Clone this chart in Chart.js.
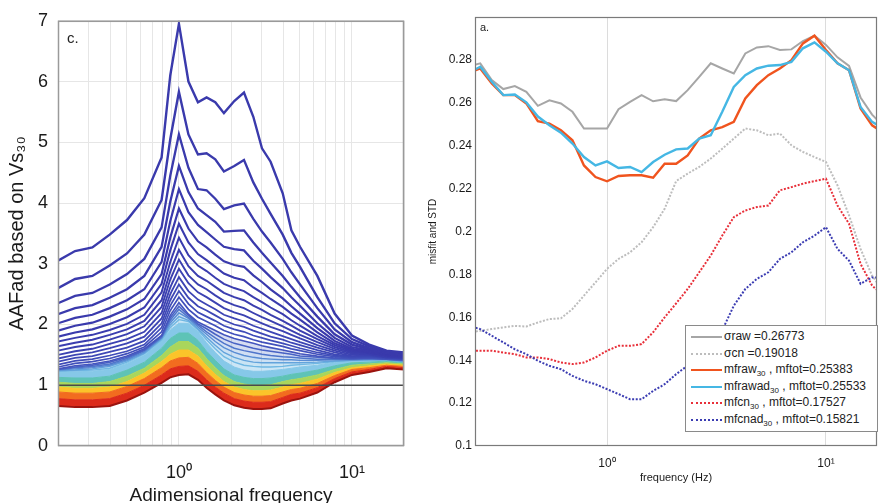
<!DOCTYPE html>
<html><head><meta charset="utf-8">
<script src="https://cdn.jsdelivr.net/npm/chart.js@4.4.1/dist/chart.umd.min.js"></script>
<style>
html,body{margin:0;padding:0;background:#fff;overflow:hidden;width:878px;height:503px;}
#wrapL{position:absolute;left:0;top:0;width:420px;height:503px;}
#wrapR{position:absolute;left:420px;top:0;width:458px;height:503px;}
#legend{position:absolute;left:685px;top:325px;width:193px;height:107px;border:1px solid #8a8a8a;background:#fff;font-family:'Liberation Sans',Arial,sans-serif;font-size:12px;color:#222;box-sizing:border-box;}
.row{position:absolute;left:0;height:16px;line-height:16px;white-space:nowrap;}
.smp{position:absolute;left:5px;top:8px;width:31px;height:0;}
.txt{position:absolute;left:38px;top:0;}
sub{font-size:8px;vertical-align:-3px;line-height:0;}
</style></head><body>
<div id="wrapL"><canvas id="cL" width="420" height="503"></canvas></div>
<div id="wrapR"><canvas id="cR" width="458" height="503"></canvas></div>
<div id="legend">
 <div class="row" style="top:2px"><span class="smp" style="border-top:2px solid #a6a6a6"></span><span class="txt">σraw =0.26773</span></div>
 <div class="row" style="top:19px"><span class="smp" style="border-top:2px dotted #bdbdbd"></span><span class="txt">σcn =0.19018</span></div>
 <div class="row" style="top:35px"><span class="smp" style="border-top:2px solid #f0541e"></span><span class="txt">mfraw<sub>30</sub> , mftot=0.25383</span></div>
 <div class="row" style="top:52px"><span class="smp" style="border-top:2px solid #45b7e4"></span><span class="txt">mfrawad<sub>30</sub> , mftot=0.25533</span></div>
 <div class="row" style="top:68px"><span class="smp" style="border-top:2px dotted #e8303a"></span><span class="txt">mfcn<sub>30</sub> , mftot=0.17527</span></div>
 <div class="row" style="top:85px"><span class="smp" style="border-top:2px dotted #3b3cb2"></span><span class="txt">mfcnad<sub>30</sub> , mftot=0.15821</span></div>
</div>
<script>
// ---------------- LEFT PANEL DATA (c.) ----------------
const adimFreq = [0.2,0.251,0.316,0.398,0.501,0.631,0.794,0.891,1.0,1.135,1.288,1.445,1.622,1.82,2.089,2.377,2.692,3.02,3.388,3.981,4.467,5.012,6.31,7.943,10,12.59,15.85,20];
const aaf01 = [3.05,3.21,3.27,3.48,3.72,4.08,4.75,6.10,6.95,6.00,5.66,5.74,5.66,5.48,5.68,5.82,5.42,4.90,4.68,4.16,3.55,3.28,2.80,2.18,1.82,1.67,1.57,1.54];
const aaf02 = [2.60,2.75,2.80,2.97,3.17,3.48,4.05,5.05,5.83,5.13,4.80,4.82,4.72,4.52,4.61,4.71,4.34,4.07,3.82,3.48,3.18,2.95,2.45,2.02,1.76,1.64,1.55,1.53];
const aaf03 = [2.35,2.47,2.52,2.66,2.83,3.08,3.60,4.45,5.13,4.58,4.23,4.21,4.07,3.90,3.96,3.99,3.74,3.53,3.35,3.08,2.86,2.66,2.27,1.92,1.71,1.61,1.53,1.51];
const aaf04 = [2.17,2.27,2.32,2.44,2.58,2.80,3.28,4.02,4.61,4.18,3.91,3.80,3.69,3.53,3.54,3.55,3.35,3.18,3.02,2.80,2.62,2.45,2.13,1.84,1.67,1.59,1.52,1.50];
const aaf05 = [2.02,2.11,2.16,2.27,2.40,2.58,3.03,3.70,4.23,3.85,3.64,3.52,3.40,3.28,3.24,3.22,3.05,2.92,2.78,2.60,2.45,2.31,2.02,1.78,1.63,1.57,1.51,1.49];
const aaf06 = [1.90,1.98,2.03,2.13,2.25,2.42,2.83,3.43,3.91,3.58,3.37,3.27,3.15,3.04,2.98,2.95,2.81,2.70,2.58,2.43,2.30,2.18,1.94,1.73,1.60,1.55,1.50,1.48];
const aaf07 = [1.80,1.87,1.92,2.01,2.12,2.28,2.67,3.22,3.66,3.35,3.16,3.06,2.95,2.84,2.77,2.73,2.61,2.52,2.42,2.29,2.18,2.08,1.87,1.69,1.58,1.54,1.49,1.47];
const aaf08 = [1.72,1.78,1.83,1.91,2.01,2.16,2.53,3.03,3.43,3.14,2.97,2.88,2.77,2.67,2.60,2.55,2.45,2.37,2.28,2.17,2.07,1.98,1.81,1.66,1.56,1.53,1.48,1.46];
const aaf09 = [1.64,1.70,1.75,1.83,1.92,2.06,2.40,2.87,3.23,2.96,2.80,2.72,2.62,2.52,2.45,2.40,2.31,2.24,2.16,2.06,1.98,1.90,1.76,1.63,1.54,1.52,1.47,1.46];
const aaf10 = [1.57,1.63,1.67,1.75,1.84,1.97,2.29,2.74,3.07,2.81,2.66,2.58,2.48,2.39,2.32,2.27,2.19,2.12,2.06,1.97,1.90,1.83,1.71,1.60,1.52,1.51,1.47,1.45];
const aaf11 = [1.50,1.56,1.60,1.68,1.76,1.88,2.19,2.61,2.92,2.68,2.53,2.45,2.36,2.27,2.20,2.15,2.08,2.02,1.96,1.89,1.83,1.77,1.66,1.57,1.50,1.50,1.46,1.45];
const aaf12 = [1.44,1.50,1.54,1.61,1.69,1.80,2.10,2.50,2.78,2.55,2.41,2.33,2.25,2.16,2.10,2.05,1.98,1.93,1.88,1.81,1.76,1.71,1.62,1.54,1.48,1.49,1.46,1.44];
const aaf13 = [1.39,1.45,1.48,1.55,1.62,1.73,2.02,2.40,2.66,2.44,2.30,2.23,2.15,2.07,2.00,1.96,1.90,1.85,1.80,1.75,1.70,1.66,1.58,1.51,1.47,1.48,1.45,1.44];
const aaf14 = [1.34,1.40,1.43,1.49,1.56,1.67,1.95,2.31,2.55,2.34,2.20,2.13,2.06,1.98,1.92,1.88,1.82,1.78,1.74,1.69,1.65,1.61,1.54,1.49,1.46,1.47,1.45,1.43];
const aaf15 = [1.30,1.36,1.39,1.44,1.52,1.63,1.88,2.23,2.45,2.25,2.12,2.05,1.98,1.90,1.84,1.80,1.75,1.71,1.68,1.64,1.60,1.57,1.51,1.47,1.45,1.46,1.44,1.43];
const aaf16 = [1.27,1.32,1.35,1.40,1.48,1.60,1.82,2.15,2.36,2.17,2.04,1.97,1.90,1.83,1.77,1.73,1.69,1.65,1.62,1.58,1.55,1.52,1.48,1.45,1.44,1.45,1.43,1.42];
const aaf17 = [1.26,1.30,1.33,1.38,1.46,1.58,1.81,2.11,2.30,2.15,2.01,1.93,1.84,1.76,1.69,1.65,1.61,1.58,1.56,1.53,1.51,1.48,1.46,1.44,1.43,1.44,1.43,1.41];
const aaf18 = [1.26,1.29,1.31,1.35,1.44,1.57,1.79,2.07,2.25,2.12,1.99,1.88,1.78,1.69,1.61,1.57,1.54,1.51,1.49,1.47,1.46,1.45,1.43,1.43,1.43,1.44,1.43,1.41];
const aaf19 = [1.25,1.27,1.29,1.33,1.42,1.55,1.78,2.03,2.19,2.10,1.96,1.84,1.72,1.62,1.54,1.49,1.46,1.44,1.43,1.42,1.42,1.41,1.41,1.42,1.42,1.43,1.43,1.40];
const aaf20 = [1.24,1.25,1.27,1.31,1.40,1.53,1.77,1.99,2.13,2.07,1.93,1.79,1.66,1.54,1.46,1.41,1.38,1.37,1.37,1.37,1.37,1.37,1.38,1.40,1.41,1.42,1.42,1.39];
const aaf21 = [1.24,1.24,1.25,1.28,1.38,1.52,1.75,1.95,2.08,2.05,1.91,1.75,1.60,1.47,1.38,1.33,1.31,1.30,1.30,1.31,1.33,1.34,1.36,1.39,1.41,1.42,1.42,1.39];
// dense colored band (lowest curves) boundaries
const bandBottom    = [0.66,0.64,0.64,0.66,0.75,0.88,1.04,1.13,1.17,1.18,1.09,0.96,0.85,0.75,0.67,0.63,0.61,0.61,0.62,0.70,0.75,0.78,0.88,1.05,1.17,1.22,1.28,1.26];
const bandRedTop    = [0.78,0.76,0.76,0.78,0.87,1.00,1.17,1.27,1.31,1.32,1.23,1.09,0.97,0.87,0.78,0.74,0.72,0.72,0.73,0.80,0.85,0.87,0.96,1.11,1.22,1.26,1.31,1.29];
const bandOrangeTop = [0.89,0.87,0.87,0.89,0.98,1.11,1.29,1.40,1.45,1.46,1.36,1.21,1.08,0.97,0.88,0.84,0.82,0.82,0.83,0.89,0.93,0.95,1.03,1.16,1.26,1.29,1.33,1.31];
const bandYellowTop = [0.97,0.95,0.95,0.97,1.06,1.20,1.39,1.51,1.58,1.58,1.48,1.32,1.18,1.06,0.97,0.93,0.91,0.91,0.92,0.97,1.01,1.03,1.10,1.21,1.29,1.32,1.35,1.33];
const bandGreenTop  = [1.05,1.03,1.03,1.06,1.15,1.28,1.49,1.63,1.72,1.72,1.61,1.44,1.29,1.16,1.06,1.02,1.00,1.00,1.01,1.06,1.09,1.11,1.17,1.26,1.33,1.35,1.37,1.35];
const bandTealTop   = [1.13,1.12,1.12,1.15,1.25,1.38,1.61,1.77,1.86,1.86,1.74,1.56,1.41,1.27,1.17,1.13,1.11,1.11,1.12,1.15,1.18,1.20,1.25,1.32,1.37,1.38,1.40,1.37];
const bandCyanTop   = [1.23,1.22,1.23,1.26,1.36,1.50,1.74,1.91,2.02,2.02,1.88,1.70,1.54,1.40,1.30,1.25,1.23,1.23,1.24,1.26,1.28,1.30,1.33,1.38,1.40,1.41,1.42,1.38];
const unityFreq  = [0.2, 20];
const unityLevel = [1, 1];
const adimGridTicks = [0.2,0.3,0.4,0.5,0.6,0.7,0.8,0.9,1,2,3,4,5,6,7,8,9,10,20];

// ---------------- RIGHT PANEL DATA (a.) ----------------
const freqHz = [0.2336,0.2637,0.2976,0.336,0.3793,0.4281,0.4833,0.5456,0.6158,0.6952,0.7848,0.8859,1,1.1288,1.2743,1.4384,1.6238,1.833,2.0691,2.3357,2.6367,2.9764,3.3598,3.7927,4.2813,4.8329,5.4556,6.1585,6.9519,7.8476,8.8587,10,11.288,12.743,14.384,16.238,18.33];
const sigmaRaw = [0.277,0.2784,0.2706,0.2664,0.2678,0.2651,0.2586,0.2612,0.2597,0.2558,0.248,0.248,0.248,0.257,0.2604,0.2636,0.2607,0.2617,0.2608,0.2659,0.2721,0.2784,0.276,0.2737,0.283,0.2858,0.2864,0.2846,0.2849,0.2888,0.2913,0.287,0.2812,0.2772,0.2625,0.2545,0.249];
const sigmaCn  = [0.153,0.1537,0.1545,0.1553,0.156,0.1557,0.1576,0.1592,0.1595,0.1639,0.1701,0.1763,0.1826,0.1872,0.1903,0.195,0.202,0.2106,0.2235,0.227,0.2301,0.234,0.2386,0.2433,0.248,0.2472,0.2449,0.2457,0.2402,0.2371,0.2347,0.2324,0.2215,0.2075,0.1919,0.1794,0.172];
const mfRaw30  = [0.274,0.276,0.269,0.2636,0.2636,0.2597,0.2514,0.2503,0.2472,0.2425,0.2308,0.2254,0.2234,0.2259,0.2262,0.2262,0.2251,0.2316,0.2316,0.2355,0.2433,0.2472,0.2487,0.2511,0.262,0.2682,0.2729,0.276,0.2799,0.2877,0.2913,0.2846,0.2784,0.2752,0.2573,0.2495,0.246];
const mfRawAd30= [0.274,0.2768,0.2698,0.2636,0.2639,0.2602,0.2536,0.2495,0.2461,0.241,0.2347,0.2308,0.2327,0.2296,0.2301,0.2277,0.2324,0.2358,0.2383,0.2387,0.2433,0.2449,0.2558,0.2674,0.2729,0.276,0.2773,0.2776,0.2791,0.2854,0.2882,0.2838,0.2784,0.2752,0.2581,0.2511,0.248];
const mfCn30   = [0.1444,0.1444,0.1444,0.1436,0.1428,0.1413,0.1413,0.1405,0.1389,0.1382,0.1389,0.1413,0.1444,0.1467,0.1467,0.1475,0.153,0.16,0.1665,0.1732,0.181,0.1888,0.1981,0.2067,0.2098,0.2114,0.2121,0.2192,0.2207,0.2223,0.2235,0.2246,0.2121,0.2036,0.1849,0.1748,0.170];
const mfCnAd30 = [0.156,0.1545,0.1514,0.1483,0.1451,0.1428,0.1397,0.1374,0.1358,0.1327,0.1304,0.1288,0.1265,0.1242,0.1218,0.1218,0.1257,0.1288,0.1335,0.1375,0.142,0.1475,0.154,0.1654,0.1732,0.1779,0.181,0.1872,0.1903,0.195,0.1981,0.202,0.1919,0.1864,0.1756,0.1786,0.1786];
const misfitTicks = [0.1,0.12,0.14,0.16,0.18,0.2,0.22,0.24,0.26,0.28,0.3];
const freqGridTicks = [1, 10];

// ---------------- helpers ----------------
const FONT = "'Liberation Sans', Arial, Helvetica, sans-serif";
Chart.defaults.font.family = FONT;
Chart.defaults.color = '#1a1a1a';
const toXY = (xs, ys) => xs.map((x, i) => ({x: x, y: ys[i]}));
const expLabel = v => (Math.abs(v - 1) < 1e-9 ? '10\u2070' : (Math.abs(v - 10) < 1e-9 ? '10\u00b9' : ''));

const framePlugin = {
  id: 'frame',
  afterDatasetsDraw(chart, args, o) {
    const {ctx, chartArea: a} = chart;
    ctx.save();
    ctx.strokeStyle = o.color; ctx.lineWidth = o.width;
    ctx.strokeRect(a.left + 0.5, a.top + 0.5, a.right - a.left - 1, a.bottom - a.top - 1);
    ctx.fillStyle = '#222'; ctx.font = o.font; ctx.textBaseline = 'alphabetic'; ctx.textAlign = 'left';
    ctx.fillText(o.tag, a.left + o.dx, a.top + o.dy);
    ctx.restore();
  }
};

// ---------------- LEFT CHART ----------------
const curves = [aaf01,aaf02,aaf03,aaf04,aaf05,aaf06,aaf07,aaf08,aaf09,aaf10,aaf11,aaf12,aaf13,aaf14,aaf15,aaf16,aaf17,aaf18,aaf19,aaf20,aaf21];
const curveColors = ['#3a3aac','#3a3aac','#3a3aac','#3a3aac','#3a3aac','#3a3aac','#3a3bad','#3a3cae','#3b3eaf','#3b40b0','#3c42b2','#3d45b4','#3e48b6','#3f4cb8','#4150bb','#4455be','#4862c4','#4f75cb','#588cd4','#63a3dc','#70b8e3'];
const curveShades = [null,null,null,null,null,null,null,null,null,null,null,null,null,null,null,null,'rgba(72,98,196,0.22)','rgba(79,117,203,0.25)','rgba(88,140,212,0.28)','rgba(99,163,220,0.32)','rgba(112,184,227,0.38)'];
const curveWidths = [2.4,2.4,2.3,2.3,2.2,2.2,2.1,2.0,2.0,1.9,1.9,1.8,1.8,1.7,1.7,1.6,1.5,1.5,1.4,1.4,1.4];
const bandArrays = [bandBottom, bandRedTop, bandOrangeTop, bandYellowTop, bandGreenTop, bandTealTop, bandCyanTop];
const bandColors = ['#a3160f','#dc2b1b','#f26c1f','#fbc42a','#a9d65c','#5ec3b6','#86c8e8'];

const dsL = [];
dsL.push({data: toXY(unityFreq, unityLevel), borderColor: '#4a4a4a', borderWidth: 1.5, fill: false});
const curveStart = dsL.length;
curves.forEach((c, i) => dsL.push({
  data: toXY(adimFreq, c), borderColor: curveColors[i], borderWidth: curveWidths[i],
  backgroundColor: curveShades[i] || 'transparent',
  fill: curveShades[i] ? curveStart + i - 1 : false
}));
const bandStart = dsL.length;
bandArrays.forEach((b, i) => {
  dsL.push({
    data: toXY(adimFreq, b),
    borderColor: i === 0 ? '#9a130e' : bandColors[i],
    borderWidth: i === 0 ? 2 : 1,
    backgroundColor: bandColors[i],
    fill: i === 0 ? false : bandStart + i - 1
  });
});
// light shading between the last drawn line and the cyan band top
dsL.push({data: toXY(adimFreq, bandCyanTop), borderColor: 'transparent', borderWidth: 0,
  backgroundColor: 'rgba(140,200,236,0.45)', fill: curveStart + curves.length - 1});

new Chart(document.getElementById('cL'), {
  type: 'line',
  data: {datasets: dsL},
  options: {
    responsive: false, animation: false, devicePixelRatio: 1,
    layout: {padding: {left: 0, right: 15, top: 16, bottom: 0}},
    elements: {point: {radius: 0}, line: {tension: 0}},
    plugins: {legend: {display: false}, tooltip: {enabled: false},
      frame: {color: '#9a9a9a', width: 1.5, tag: 'c.', font: '15px ' + FONT, dx: 9, dy: 22}},
    scales: {
      x: {type: 'logarithmic', min: 0.2, max: 20,
        afterBuildTicks: s => { s.ticks = adimGridTicks.map(v => ({value: v})); },
        afterFit: s => { s.height = 57; },
        grid: {color: '#e6e6e6', lineWidth: 1, drawTicks: false},
        border: {display: false},
        ticks: {autoSkip: false, maxRotation: 0, minRotation: 0, padding: 16, font: {size: 18}, color: '#1a1a1a', callback: v => expLabel(v)},
        title: {display: true, text: 'Adimensional frequency', font: {size: 19}, color: '#1a1a1a', padding: {top: 0, bottom: -4}}
      },
      y: {min: 0, max: 7,
        afterBuildTicks: s => { s.ticks = [0,1,2,3,4,5,6,7].map(v => ({value: v})); },
        afterFit: s => { s.width = 58; },
        grid: {color: '#e6e6e6', lineWidth: 1, drawTicks: false},
        border: {display: false},
        ticks: {padding: 10, font: {size: 18}, color: '#1a1a1a'},
        title: {display: true, text: 'AAFad based on Vs\u2083\u2080', font: {size: 20}, color: '#1a1a1a', padding: {top: 5, bottom: 0}}
      }
    }
  },
  plugins: [framePlugin]
});

// ---------------- RIGHT CHART ----------------
const dsR = [
  {data: toXY(freqHz, mfRawAd30), borderColor: '#45b7e4', borderWidth: 2.4, fill: false},
  {data: toXY(freqHz, mfRaw30),   borderColor: '#f0541e', borderWidth: 2.4, fill: false},
  {data: toXY(freqHz, sigmaRaw),  borderColor: '#a6a6a6', borderWidth: 2, fill: false},
  {data: toXY(freqHz, mfCnAd30),  borderColor: '#3b3cb2', borderWidth: 2, borderDash: [2, 1.6], fill: false},
  {data: toXY(freqHz, mfCn30),    borderColor: '#e8303a', borderWidth: 2, borderDash: [2, 1.6], fill: false},
  {data: toXY(freqHz, sigmaCn),   borderColor: '#bdbdbd', borderWidth: 2, borderDash: [2, 1.6], fill: false}
];

new Chart(document.getElementById('cR'), {
  type: 'line',
  data: {datasets: dsR},
  options: {
    responsive: false, animation: false, devicePixelRatio: 1,
    layout: {padding: {left: 0, right: 1, top: 17, bottom: 0}},
    elements: {point: {radius: 0}, line: {tension: 0}},
    plugins: {legend: {display: false}, tooltip: {enabled: false},
      frame: {color: '#7a7a7a', width: 1.2, tag: 'a.', font: '11px ' + FONT, dx: 5, dy: 14}},
    scales: {
      x: {type: 'logarithmic', min: 0.2495, max: 17.1,
        afterBuildTicks: s => { s.ticks = freqGridTicks.map(v => ({value: v})); },
        afterFit: s => { s.height = 57; },
        grid: {color: '#dcdcdc', lineWidth: 1, drawTicks: false},
        border: {display: false},
        ticks: {autoSkip: false, maxRotation: 0, minRotation: 0, padding: 10, font: {size: 12}, color: '#1a1a1a', callback: v => expLabel(v)},
        title: {display: true, text: 'frequency (Hz)', font: {size: 11}, color: '#1a1a1a', padding: {top: 0, bottom: 18}}
      },
      y: {min: 0.1, max: 0.3,
        afterBuildTicks: s => { s.ticks = misfitTicks.map(v => ({value: v})); },
        afterFit: s => { s.width = 55; },
        grid: {display: false, drawTicks: false},
        border: {display: false},
        ticks: {padding: 3, font: {size: 12}, color: '#1a1a1a', callback: v => (v > 0.299 ? '' : String(Number(v.toFixed(2))))},
        title: {display: true, text: 'misfit and STD', font: {size: 10}, color: '#1a1a1a', padding: {top: 7, bottom: 0}}
      }
    }
  },
  plugins: [framePlugin]
});
</script>
</body></html>
